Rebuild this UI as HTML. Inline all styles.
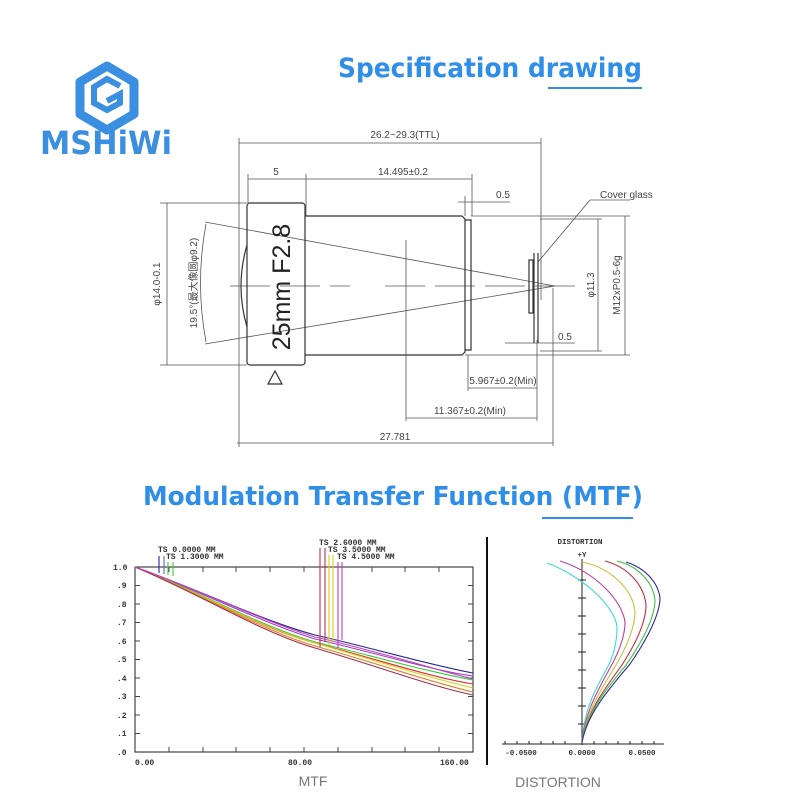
<!DOCTYPE html>
<html><head><meta charset="utf-8"><style>
html,body{margin:0;padding:0;background:#fff;}
svg{display:block;}
</style></head><body>
<svg width="800" height="800" viewBox="0 0 800 800" xmlns="http://www.w3.org/2000/svg">
<rect width="800" height="800" fill="#fff"/>
<!-- logo -->
<g fill="none" stroke="#3b8fe0" stroke-width="9" stroke-linejoin="round">
<polygon points="107,66 134,82 134,114 107,130 80,114 80,82"/>
</g>
<g fill="none" stroke="#3b8fe0" stroke-width="6">
<path d="M120,86 L107,79 L94,87 L94,103 L107,110 L120,103 L120,94 L107,101"/>
</g>
<text x="40" y="154" font-family="'DejaVu Sans','Liberation Sans',sans-serif" font-weight="bold" font-size="32" fill="#3b8fe0" textLength="132" lengthAdjust="spacingAndGlyphs">MSHiWi</text>
<!-- titles -->
<text x="338" y="77" font-family="'DejaVu Sans','Liberation Sans',sans-serif" font-weight="bold" font-size="27" fill="#2f8ee8" textLength="304" lengthAdjust="spacingAndGlyphs">Specification drawing</text>
<line x1="548" y1="88" x2="642" y2="88" stroke="#2f8ee8" stroke-width="2"/>
<text x="143" y="505" font-family="'DejaVu Sans','Liberation Sans',sans-serif" font-weight="bold" font-size="26" fill="#2f8ee8" textLength="500" lengthAdjust="spacingAndGlyphs">Modulation Transfer Function (MTF)</text>
<line x1="542" y1="518" x2="633" y2="518" stroke="#2f8ee8" stroke-width="2"/>

<!-- drawing -->
<g stroke="#555" stroke-width="0.8" fill="none">
<line x1="239" y1="143" x2="541" y2="143"/>
<line x1="239" y1="138" x2="239" y2="447"/>
<line x1="541" y1="138" x2="541" y2="300"/>
<line x1="248" y1="179" x2="472" y2="179"/>
<line x1="248" y1="174" x2="248" y2="203"/>
<line x1="306" y1="174" x2="306" y2="216"/>
<line x1="472" y1="174" x2="472" y2="216"/>
<line x1="458" y1="202" x2="510" y2="202"/>
<line x1="465" y1="196" x2="465" y2="216"/>
<line x1="160" y1="203" x2="247" y2="203"/>
<line x1="160" y1="365" x2="247" y2="365"/>
<line x1="167" y1="203" x2="167" y2="365"/>
<line x1="471" y1="216" x2="630" y2="216"/>
<line x1="465" y1="355" x2="630" y2="355"/>
<line x1="598" y1="219" x2="598" y2="351"/>
<line x1="540" y1="219" x2="602" y2="219"/>
<line x1="540" y1="351" x2="602" y2="351"/>
<line x1="625" y1="216" x2="625" y2="355"/>
<line x1="205" y1="222" x2="555" y2="286"/>
<line x1="205" y1="344" x2="555" y2="286"/>
<path d="M206,224 Q195,283 206,342"/>
<line x1="230" y1="286" x2="350" y2="286" stroke-dasharray="40,10"/>
<line x1="385" y1="286" x2="575" y2="286" stroke-dasharray="40,10"/>
<line x1="406" y1="240" x2="406" y2="421"/>
<line x1="468" y1="355" x2="468" y2="391"/>
<line x1="537" y1="340" x2="537" y2="421"/>
<line x1="468" y1="388" x2="537" y2="388"/>
<line x1="406" y1="418" x2="537" y2="418"/>
<line x1="237" y1="443" x2="553" y2="443"/>
<line x1="553" y1="288" x2="553" y2="446"/>
<line x1="505" y1="343" x2="575" y2="343"/>
<line x1="538" y1="262" x2="590" y2="200"/>
<line x1="590" y1="200" x2="630" y2="200"/>
</g>
<g stroke="#333" stroke-width="1.2" fill="none">
<rect x="247" y="203" width="58" height="162" rx="3"/>
<path d="M305,216 L462,216 L465,219 L465,352 L462,355 L305,355"/>
<path d="M465,220 L471,220 L471,350 L465,350"/>
<path d="M247,245 Q235,286 247,327"/>
<rect x="529" y="260" width="4" height="53"/>
<line x1="534" y1="253" x2="534" y2="343"/>
<line x1="538" y1="253" x2="538" y2="343"/>
<polygon points="275,371 268,384 282,384"/>
</g>
<g font-family="'Liberation Sans','Noto Sans CJK SC',sans-serif" font-size="10" fill="#444">
<text x="405" y="138" text-anchor="middle">26.2~29.3(TTL)</text>
<text x="276" y="175" text-anchor="middle">5</text>
<text x="403" y="175" text-anchor="middle">14.495±0.2</text>
<text x="503" y="198" text-anchor="middle">0.5</text>
<text x="600" y="198">Cover glass</text>
<text x="565" y="340" text-anchor="middle">0.5</text>
<text x="503" y="384" text-anchor="middle">5.967±0.2(Min)</text>
<text x="470" y="414" text-anchor="middle">11.367±0.2(Min)</text>
<text x="395" y="440" text-anchor="middle">27.781</text>
<text transform="translate(160,284) rotate(-90)" text-anchor="middle">φ14.0-0.1</text>
<text transform="translate(197,283) rotate(-90)" text-anchor="middle">19.5°(最大像圆φ9.2)</text>
<text transform="translate(594,285) rotate(-90)" text-anchor="middle">φ11.3</text>
<text transform="translate(620,285) rotate(-90)" text-anchor="middle">M12xP0.5-6g</text>
</g>
<text transform="translate(290,287) rotate(-90)" text-anchor="middle" font-family="'Liberation Sans',sans-serif" font-size="25" fill="#222">25mm F2.8</text>

<!-- MTF -->
<rect x="135" y="567" width="338" height="185" fill="none" stroke="#444" stroke-width="1.2"/>
<g stroke="#444" stroke-width="1">
<line x1="135" y1="585.5" x2="140" y2="585.5"/><line x1="135" y1="604" x2="140" y2="604"/><line x1="135" y1="622.5" x2="140" y2="622.5"/><line x1="135" y1="641" x2="140" y2="641"/><line x1="135" y1="659.5" x2="140" y2="659.5"/><line x1="135" y1="678" x2="140" y2="678"/><line x1="135" y1="696.5" x2="140" y2="696.5"/><line x1="135" y1="715" x2="140" y2="715"/><line x1="135" y1="733.5" x2="140" y2="733.5"/>
<line x1="468" y1="585.5" x2="473" y2="585.5"/><line x1="468" y1="604" x2="473" y2="604"/><line x1="468" y1="622.5" x2="473" y2="622.5"/><line x1="468" y1="641" x2="473" y2="641"/><line x1="468" y1="659.5" x2="473" y2="659.5"/><line x1="468" y1="678" x2="473" y2="678"/><line x1="468" y1="696.5" x2="473" y2="696.5"/><line x1="468" y1="715" x2="473" y2="715"/><line x1="468" y1="733.5" x2="473" y2="733.5"/>
<line x1="169" y1="752" x2="169" y2="747"/><line x1="203" y1="752" x2="203" y2="747"/><line x1="236" y1="752" x2="236" y2="747"/><line x1="270" y1="752" x2="270" y2="747"/><line x1="304" y1="752" x2="304" y2="747"/><line x1="338" y1="752" x2="338" y2="747"/><line x1="372" y1="752" x2="372" y2="747"/><line x1="405" y1="752" x2="405" y2="747"/><line x1="439" y1="752" x2="439" y2="747"/>
<line x1="169" y1="567" x2="169" y2="572"/><line x1="203" y1="567" x2="203" y2="572"/><line x1="236" y1="567" x2="236" y2="572"/><line x1="270" y1="567" x2="270" y2="572"/><line x1="304" y1="567" x2="304" y2="572"/><line x1="338" y1="567" x2="338" y2="572"/><line x1="372" y1="567" x2="372" y2="572"/><line x1="405" y1="567" x2="405" y2="572"/><line x1="439" y1="567" x2="439" y2="572"/>
</g>
<g font-family="'Liberation Mono',monospace" font-size="8" fill="#333" font-weight="bold">
<text x="113" y="570">1.0</text><text x="117" y="588">.9</text><text x="117" y="607">.8</text><text x="117" y="625">.7</text><text x="117" y="644">.6</text><text x="117" y="662">.5</text><text x="117" y="681">.4</text><text x="117" y="699">.3</text><text x="117" y="718">.2</text><text x="117" y="736">.1</text><text x="117" y="755">.0</text>
<text x="135" y="765">0.00</text><text x="288" y="765">80.00</text><text x="440" y="765">160.00</text>
<text x="158" y="552">TS 0.0000 MM</text><text x="166" y="559">TS 1.3000 MM</text>
<text x="319" y="545">TS 2.6000 MM</text><text x="328" y="552">TS 3.5000 MM</text><text x="337" y="559">TS 4.5000 MM</text>
</g>
<g fill="none" stroke-width="1.1">
<path d="M135,567 C200,590 260,620 315,635 C380,650 430,665 473,673" stroke="#2a2a9a"/>
<path d="M135,567 C200,591 260,622 315,639 C380,654 430,670 473,676" stroke="#9a3fc0"/>
<path d="M135,567 C200,592 260,626 315,642 C380,658 430,672 473,680" stroke="#3fc83f"/>
<path d="M135,567 C200,593 260,628 315,643 C380,660 430,677 473,684" stroke="#e03030"/>
<path d="M135,567 C200,593 260,627 315,643 C380,662 430,678 473,688" stroke="#d6d020"/>
<path d="M135,567 C200,593 260,630 315,646 C380,664 430,682 473,692" stroke="#e08020"/>
<path d="M135,567 C200,594 260,632 315,648 C380,667 430,686 473,695" stroke="#a03050"/>
<path d="M135,567 C200,590 260,620 315,637 C380,652 430,668 473,679" stroke="#c040c0"/>
<line x1="159" y1="556" x2="159" y2="573" stroke="#2a2a9a"/>
<line x1="164" y1="556" x2="164" y2="574" stroke="#6060d0"/>
<line x1="168" y1="562" x2="168" y2="575" stroke="#3fc83f"/>
<line x1="173" y1="562" x2="173" y2="576" stroke="#3fc83f"/>
<line x1="320" y1="548" x2="320" y2="647" stroke="#c03050"/>
<line x1="325" y1="548" x2="325" y2="642" stroke="#c03050"/>
<line x1="329" y1="555" x2="329" y2="645" stroke="#d6d020"/>
<line x1="333" y1="555" x2="333" y2="643" stroke="#d6d020"/>
<line x1="338" y1="562" x2="338" y2="648" stroke="#c040c0"/>
<line x1="342" y1="562" x2="342" y2="640" stroke="#c040c0"/>
</g>
<line x1="487" y1="537" x2="487" y2="765" stroke="#111" stroke-width="2"/>
<text x="313" y="786" text-anchor="middle" font-family="'Liberation Sans',sans-serif" font-size="14" fill="#777">MTF</text>

<!-- Distortion -->
<g font-family="'Liberation Mono',monospace" font-size="7.5" font-weight="bold" fill="#333">
<text x="580" y="544" text-anchor="middle">DISTORTION</text>
<text x="582" y="557" text-anchor="middle">+Y</text>
<text x="521" y="755" text-anchor="middle">-0.0500</text>
<text x="582" y="755" text-anchor="middle">0.0000</text>
<text x="642" y="755" text-anchor="middle">0.0500</text>
</g>
<g stroke="#222" stroke-width="1">
<line x1="582" y1="559" x2="582" y2="745"/>
<line x1="502" y1="744" x2="664" y2="744"/>
<line x1="578" y1="580" x2="586" y2="580"/><line x1="578" y1="598" x2="586" y2="598"/><line x1="578" y1="616" x2="586" y2="616"/><line x1="578" y1="634" x2="586" y2="634"/><line x1="578" y1="652" x2="586" y2="652"/><line x1="578" y1="670" x2="586" y2="670"/><line x1="578" y1="688" x2="586" y2="688"/><line x1="578" y1="706" x2="586" y2="706"/><line x1="578" y1="724" x2="586" y2="724"/>
<line x1="505" y1="741" x2="505" y2="744"/><line x1="517" y1="741" x2="517" y2="744"/><line x1="529" y1="741" x2="529" y2="744"/><line x1="541" y1="741" x2="541" y2="744"/><line x1="553" y1="741" x2="553" y2="744"/><line x1="565" y1="741" x2="565" y2="744"/><line x1="594" y1="741" x2="594" y2="744"/><line x1="606" y1="741" x2="606" y2="744"/><line x1="618" y1="741" x2="618" y2="744"/><line x1="630" y1="741" x2="630" y2="744"/><line x1="642" y1="741" x2="642" y2="744"/><line x1="654" y1="741" x2="654" y2="744"/>
</g>
<g fill="none" stroke-width="1.1">
<path d="M582,742 C584,710 595,690 605,672 C615,655 617,640 617,627 C615,605 580,575 547,563" stroke="#40d8d8"/>
<path d="M582,742 C585,712 598,690 610,668 C620,650 625,635 625,622 C622,600 595,572 560,561" stroke="#c040a0"/>
<path d="M582,742 C586,712 602,688 616,665 C628,645 635,625 635,612 C633,590 612,568 582,562" stroke="#c8c040"/>
<path d="M582,742 C587,712 605,688 622,665 C638,640 646,620 646,605 C644,585 628,567 605,561" stroke="#c03040"/>
<path d="M582,742 C587,712 607,688 626,665 C645,638 655,615 655,600 C653,582 638,566 617,561" stroke="#40c040"/>
<path d="M582,742 C588,712 610,688 630,664 C650,635 660,612 660,598 C658,582 645,568 626,562" stroke="#2a2a9a"/>
</g>
<text x="558" y="787" text-anchor="middle" font-family="'Liberation Sans',sans-serif" font-size="14" fill="#777">DISTORTION</text>
</svg>
</body></html>
